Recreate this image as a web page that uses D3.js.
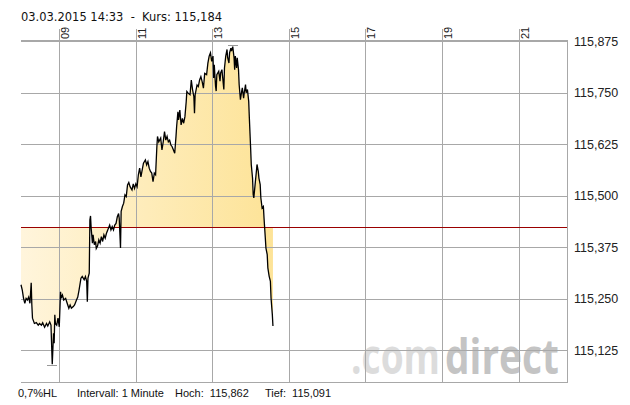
<!DOCTYPE html>
<html><head><meta charset="utf-8">
<script src="https://cdn.jsdelivr.net/npm/d3@7"></script>
<style>body{margin:0;background:#fff}svg{display:block}</style>
</head><body><svg id="c" width="630" height="405"></svg>
<script>
const times = ["08:00","08:02","08:04","08:06","08:08","08:10","08:12","08:14","08:16","08:17","08:18","08:21","08:24","08:27","08:29","08:32","08:34","08:37","08:40","08:42","08:45","08:47","08:49","08:51","08:52","08:53","08:54","08:56","08:58","09:00","09:02","09:03","09:05","09:07","09:10","09:12","09:15","09:17","09:19","09:22","09:24","09:27","09:29","09:31","09:34","09:36","09:39","09:41","09:43","09:44","09:45","09:47","09:48","09:49","09:50","09:52","09:53","09:55","09:57","09:58","10:00","10:02","10:04","10:06","10:08","10:10","10:12","10:14","10:16","10:19","10:21","10:23","10:25","10:27","10:29","10:31",
"10:33","10:34","10:36","10:37","10:39","10:41","10:43","10:45","10:47","10:49","10:51","10:54","10:56","10:58","11:00","11:02","11:04","11:06","11:08","11:10","11:12","11:15","11:17","11:19","11:21","11:23","11:25","11:27","11:29","11:31","11:33","11:34","11:36","11:39","11:41","11:43","11:45","11:47","11:49","11:51","11:53","11:55","11:57","11:59","12:01","12:03","12:04","12:06","12:07","12:09","12:11","12:13","12:15","12:17","12:19","12:20","12:22","12:25","12:27","12:29","12:31","12:32","12:33","12:36","12:38","12:40","12:42","12:44","12:46","12:48",
"12:51","12:53","12:55","12:57","12:59","13:01","13:02","13:03","13:05","13:06","13:07","13:10","13:12","13:13","13:15","13:16","13:18","13:19","13:21","13:23","13:24","13:26","13:27","13:29","13:30","13:32","13:34","13:35","13:36","13:38","13:39","13:41","13:42","13:44","13:46","13:47","13:49","13:50","13:52","13:53","13:55","13:57","13:58","14:00","14:01","14:03","14:04","14:05","14:07","14:09","14:10","14:12","14:13","14:15","14:16","14:18","14:20","14:21","14:23","14:24","14:26","14:27","14:29","14:31","14:32","14:34","14:35"];
const prices = [115.284,115.271,115.251,115.239,115.251,115.247,115.254,115.239,115.289,115.235,115.203,115.190,115.192,115.186,115.190,115.186,115.192,115.181,115.190,115.184,115.194,115.186,115.091,115.166,115.142,115.211,115.190,115.186,115.203,115.182,115.267,115.251,115.259,115.247,115.251,115.241,115.227,115.235,115.227,115.231,115.235,115.247,115.254,115.271,115.300,115.304,115.296,115.304,115.292,115.243,115.300,115.312,115.441,115.451,115.421,115.385,115.405,115.381,115.389,115.372,115.378,115.393,115.385,115.401,115.389,115.405,115.397,115.409,115.417,115.429,115.417,115.425,115.417,115.429,115.433,115.449,
115.457,115.445,115.373,115.462,115.474,115.482,115.502,115.498,115.526,115.532,115.522,115.514,115.529,115.518,115.529,115.522,115.551,115.567,115.546,115.563,115.579,115.587,115.575,115.583,115.567,115.559,115.555,115.534,115.555,115.551,115.619,115.644,115.631,115.640,115.611,115.631,115.656,115.635,115.644,115.631,115.635,115.623,115.619,115.611,115.603,115.644,115.668,115.704,115.684,115.708,115.672,115.688,115.676,115.692,115.728,115.753,115.749,115.745,115.781,115.757,115.741,115.700,115.745,115.769,115.765,115.781,115.789,115.777,115.761,115.797,
115.794,115.822,115.839,115.847,115.826,115.839,115.786,115.818,115.766,115.754,115.794,115.802,115.778,115.798,115.806,115.790,115.758,115.810,115.839,115.855,115.835,115.822,115.847,115.858,115.851,115.862,115.835,115.806,115.839,115.810,115.835,115.806,115.770,115.733,115.754,115.762,115.737,115.750,115.770,115.750,115.758,115.729,115.689,115.616,115.576,115.543,115.503,115.495,115.527,115.559,115.576,115.559,115.543,115.527,115.495,115.470,115.474,115.446,115.398,115.373,115.357,115.325,115.305,115.292,115.252,115.212,115.184];
const yTicks = [115.125, 115.25, 115.375, 115.5, 115.625, 115.75, 115.875];
const yTickLabels = ["115,125","115,250","115,375","115,500","115,625","115,750","115,875"];
const xTickHours = ["09","11","13","15","17","19","21"];
const prevClose = 115.424;
const highValue = 115.862, lowValue = 115.091;
const headerText = "03.03.2015 14:33  -  Kurs: 115,184";
const footerTexts = ["0,7%HL", "Intervall: 1 Minute", "Hoch:  115,862", "Tief:  115,091"];
const watermarkParts = [".com", "direct"];

const svg = d3.select("#c");
const parse = d3.timeParse("%Y-%m-%d %H:%M");
const day = "2015-03-03 ";
const data = times.map((t, i) => ({t: parse(day + t), v: prices[i]}));

const L = 21, R = 567, T = 40, B = 382;
const x = d3.scaleTime().domain([parse(day + "08:00"), parse(day + "22:16")]).range([L, R]);
const y = d3.scaleLinear().domain([115.048, 115.878]).range([B, T]);
const px = v => Math.round(v) + 0.5;

// gradient
const defs = svg.append("defs");
const lastX = x(data[data.length - 1].t);
const g = defs.append("linearGradient").attr("id", "fillg").attr("gradientUnits", "userSpaceOnUse")
  .attr("x1", L).attr("x2", lastX).attr("y1", 0).attr("y2", 0);
g.append("stop").attr("offset", 0).attr("stop-color", "#fff5dc");
g.append("stop").attr("offset", 1).attr("stop-color", "#fde397");

// watermark (horizontally condensed via transform so its box is its real size)
const wmX = [351, 445], wmW = [89, 114], wmC = ["#dcdcdc", "#c4c4c4"];
watermarkParts.forEach((t, i) => {
  const el = svg.append("text").attr("x", 0).attr("y", 0)
    .attr("font-family", "Open Sans").attr("font-weight", 700).attr("font-size", 49)
    .attr("fill", wmC[i]).text(t);
  const w = el.node().getComputedTextLength();
  el.attr("transform", `translate(${wmX[i]},374) scale(${wmW[i] / w},1)`);
});

// area
svg.append("path").datum(data)
  .attr("d", d3.area().x(d => x(d.t)).y0(y(prevClose)).y1(d => y(d.v)))
  .attr("fill", "url(#fillg)");

// grid
const gridCol = "#a8a8a8";
const grid = svg.append("g").attr("stroke", gridCol).attr("stroke-width", 1).attr("shape-rendering", "crispEdges");
yTicks.forEach(v => {
  grid.append("line").attr("x1", L).attr("x2", R + 1).attr("y1", px(y(v))).attr("y2", px(y(v)));
});
const xTickDates = xTickHours.map(h => parse(day + h + ":00"));
xTickDates.forEach(d => {
  grid.append("line").attr("x1", px(x(d))).attr("x2", px(x(d))).attr("y1", T - 11).attr("y2", B);
});
grid.append("line").attr("x1", L).attr("x2", R + 1).attr("y1", T + 0.5).attr("y2", T + 0.5);
grid.append("line").attr("x1", L).attr("x2", R + 1).attr("y1", B + 0.5).attr("y2", B + 0.5);
grid.append("line").attr("x1", R + 0.5).attr("x2", R + 0.5).attr("y1", T).attr("y2", B + 1);

// x labels
xTickDates.forEach((d, i) => {
  svg.append("text").attr("transform", `translate(${px(x(d)) + 9},${T - 1}) rotate(-90)`)
    .attr("font-family", "Liberation Sans, Arial, sans-serif").attr("font-size", 11).attr("fill", "#222")
    .text(xTickHours[i]);
});
// y labels
yTicks.forEach((v, i) => {
  svg.append("text").attr("x", R + 7).attr("y", y(v)).attr("dy", "0.36em")
    .attr("font-family", "Liberation Sans, Arial, sans-serif").attr("font-size", 12.5).attr("fill", "#222")
    .text(yTickLabels[i]);
});

// previous close line
svg.append("line").attr("x1", L).attr("x2", R).attr("y1", px(y(prevClose))).attr("y2", px(y(prevClose)))
  .attr("stroke", "#9a0000").attr("stroke-width", 1).attr("shape-rendering", "crispEdges");

// hi/lo markers
const hi = data.find(d => d.v === highValue), lo = data.find(d => d.v === lowValue);
svg.append("line").attr("x1", x(hi.t) - 5).attr("x2", x(hi.t) + 5).attr("y1", px(y(hi.v) - 2)).attr("y2", px(y(hi.v) - 2))
  .attr("stroke", "#999").attr("shape-rendering", "crispEdges");
svg.append("line").attr("x1", x(lo.t) - 5).attr("x2", x(lo.t) + 5).attr("y1", px(y(lo.v) + 1)).attr("y2", px(y(lo.v) + 1))
  .attr("stroke", "#999").attr("shape-rendering", "crispEdges");

// price line
svg.append("path").datum(data)
  .attr("d", d3.line().x(d => x(d.t)).y(d => y(d.v)))
  .attr("fill", "none").attr("stroke", "#000").attr("stroke-width", 1.3).attr("stroke-linejoin", "miter");

// header
svg.append("text").attr("x", 21).attr("y", 20.5).attr("xml:space", "preserve")
  .attr("font-family", "DejaVu Sans, Verdana, sans-serif").attr("font-size", 11.5).attr("fill", "#111")
  .attr("textLength", 201).attr("lengthAdjust", "spacingAndGlyphs")
  .text(headerText);

// footer
const fx = [18, 77, 175, 265];
footerTexts.forEach((t, i) => {
  svg.append("text").attr("x", fx[i]).attr("y", 397).attr("xml:space", "preserve")
    .attr("font-family", "Liberation Sans, Arial, sans-serif").attr("font-size", 11).attr("fill", "#111")
    .text(t);
});
</script></body></html>
